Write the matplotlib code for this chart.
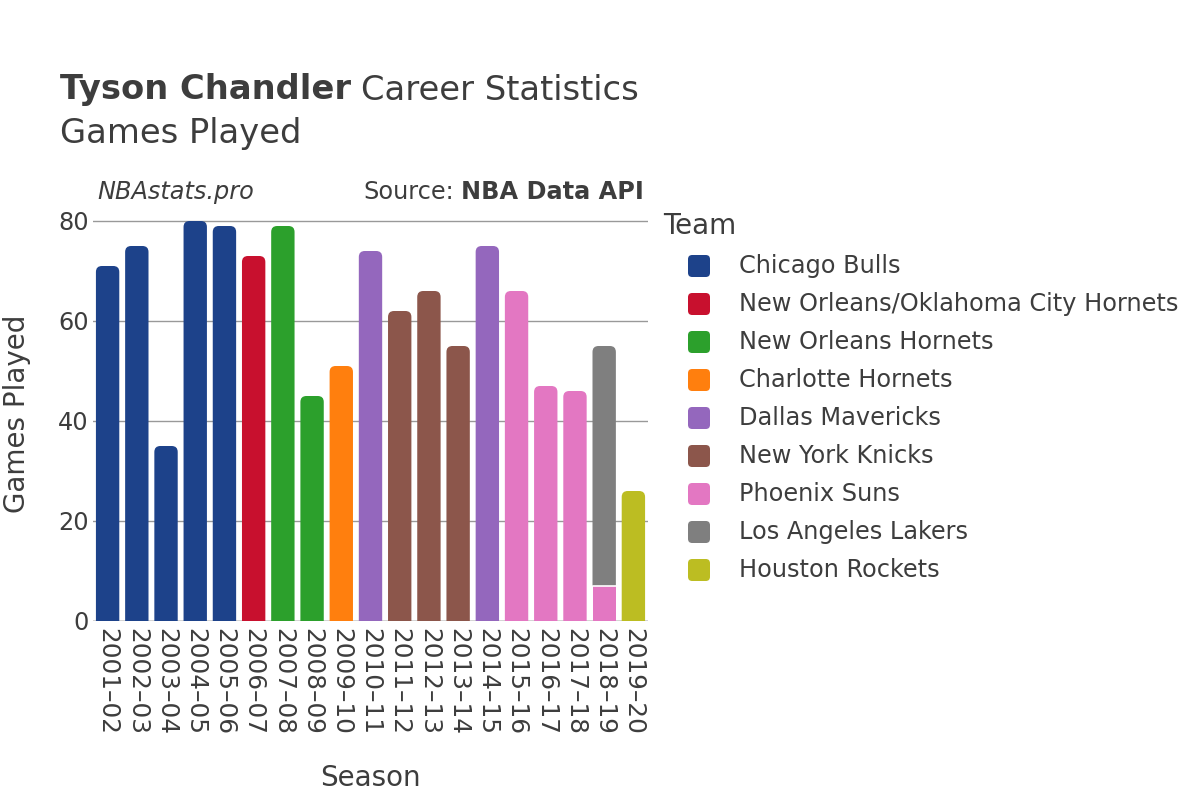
import matplotlib
matplotlib.use("Agg")
import matplotlib.pyplot as plt
from matplotlib.patches import FancyBboxPatch, Rectangle, PathPatch
from matplotlib.path import Path

seasons = ["2001–02", "2002–03", "2003–04", "2004–05", "2005–06", "2006–07",
           "2007–08", "2008–09", "2009–10", "2010–11", "2011–12", "2012–13",
           "2013–14", "2014–15", "2015–16", "2016–17", "2017–18", "2018–19",
           "2019–20"]

teams = ["Chicago Bulls", "New Orleans/Oklahoma City Hornets", "New Orleans Hornets",
         "Charlotte Hornets", "Dallas Mavericks", "New York Knicks", "Phoenix Suns",
         "Los Angeles Lakers", "Houston Rockets"]
team_colors = ["#1d428a", "#c8102e", "#2ca02c", "#ff7f0e", "#9467bd",
               "#8c564b", "#e377c2", "#7f7f7f", "#bcbd22"]

# one entry per bar segment (season index, team index, games)
seg_season = [0, 1, 2, 3, 4, 5, 6, 7, 8, 9, 10, 11, 12, 13, 14, 15, 16, 17, 17, 18]
seg_team = [0, 0, 0, 0, 0, 1, 2, 2, 3, 4, 5, 5, 5, 4, 6, 6, 6, 6, 7, 8]
seg_games = [71, 75, 35, 80, 79, 73, 79, 45, 51, 74, 62, 66, 55, 75, 66, 47, 46, 7, 48, 26]

txt = "#3d3d3d"
fs = 17.3
W, H = 1200, 800
fig = plt.figure(figsize=(12, 8), dpi=100)
left, right = 93, 648
y0px, ytop_px = 621, 206
ax = fig.add_axes([left / W, 1 - y0px / H, (right - left) / W, (y0px - ytop_px) / H])
ymax = (y0px - ytop_px) / 5.0
ax.set_xlim(-0.5, len(seasons) - 0.5)
ax.set_ylim(0, ymax)

px_x = (right - left) / len(seasons)
px_y = 5.0
bw = 0.8
rad = 6  # corner radius in pixels
rx = rad / px_x
ry = rad / px_y


def top_rounded(x, b, w, h):
    t = b + h
    k = min(ry, h)
    verts = [(x, b), (x, t - k), (x, t), (x + rx, t), (x + w - rx, t),
             (x + w, t), (x + w, t - k), (x + w, b), (x, b)]
    codes = [Path.MOVETO, Path.LINETO, Path.CURVE3, Path.CURVE3, Path.LINETO,
             Path.CURVE3, Path.CURVE3, Path.LINETO, Path.CLOSEPOLY]
    return Path(verts, codes)


# top segment of each season gets the rounded corners
top_idx = {}
for i, s in enumerate(seg_season):
    top_idx[s] = i

bottoms = [0] * len(seasons)
for i, (s, t, g) in enumerate(zip(seg_season, seg_team, seg_games)):
    b = bottoms[s]
    c = team_colors[t]
    x = s - bw / 2
    if top_idx[s] == i:
        ax.add_patch(PathPatch(top_rounded(x, b, bw, g), fc=c, ec="none", zorder=3))
    else:
        ax.add_patch(Rectangle((x, b), bw, g, fc=c, ec="none", zorder=3))
    if b > 0:
        ax.plot([x, x + bw], [b, b], color="white", lw=1.2, zorder=4)
    bottoms[s] = b + g

ax.set_yticks([0, 20, 40, 60, 80])
ax.grid(axis="y", color="#999999", lw=1, zorder=0)
ax.axhline(0, color="#e0e0e0", lw=2, zorder=1)
for sp in ax.spines.values():
    sp.set_visible(False)
ax.set_xticks(range(len(seasons)))
ax.set_xticklabels(seasons, rotation=-90, fontsize=17.8, color=txt)
ax.tick_params(axis="y", labelsize=fs, labelcolor=txt, length=0, pad=3)
ax.tick_params(axis="x", length=0, pad=5)
ax.set_ylabel("Games Played", fontsize=20, color=txt, va="center")
ax.yaxis.set_label_coords(-(93 - 17) / (right - left), 0.5)
ax.set_xlabel("Season", fontsize=20, color=txt, va="center")
ax.xaxis.set_label_coords(0.5, -(778 - y0px) / (y0px - ytop_px))

t1 = fig.text(60 / W, 1 - 90 / H, "Tyson Chandler", fontsize=24.3, color=txt, va="center",
              fontweight="bold")
fig.canvas.draw()
bb = t1.get_window_extent()
fig.text((bb.x1 + 10) / W, 1 - 90 / H, "Career Statistics", fontsize=24.3, color=txt, va="center")
fig.text(60 / W, 1 - 133 / H, "Games Played", fontsize=24.3, color=txt, va="center")
fig.text(97 / W, 1 - 192 / H, "NBAstats.pro", fontsize=fs, color=txt, va="center", style="italic")
src = fig.text(644 / W, 1 - 192 / H, "NBA Data API", fontsize=fs, color=txt, va="center",
               ha="right", fontweight="bold")
fig.canvas.draw()
sb = src.get_window_extent()
fig.text((sb.x0 - 7) / W, 1 - 192 / H, "Source:", fontsize=fs, color=txt, va="center", ha="right")

# legend
fig.text(663 / W, 1 - 226 / H, "Team", fontsize=20, color=txt, va="center")
for k, (name, c) in enumerate(zip(teams, team_colors)):
    yc = 266 + 38 * k
    fig.add_artist(FancyBboxPatch(((699 - 11) / W, 1 - (yc + 11) / H), 22 / W, 22 / H,
                                  boxstyle="round,pad=0,rounding_size=0.0035",
                                  mutation_aspect=W / H, transform=fig.transFigure,
                                  fc=c, ec="none"))
    fig.text(739 / W, 1 - yc / H, name, fontsize=fs, color=txt, va="center")

fig.savefig("out.png", dpi=100)
